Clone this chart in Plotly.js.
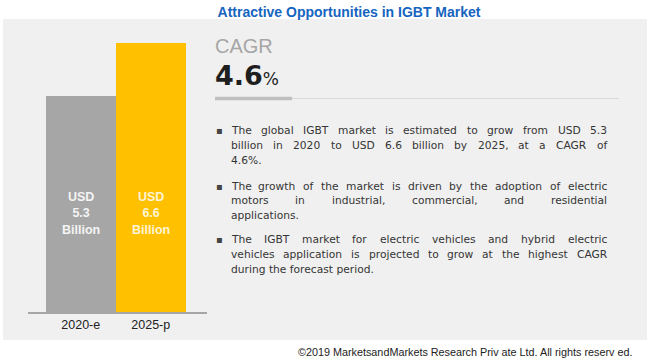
<!DOCTYPE html>
<html>
<head>
<meta charset="utf-8">
<script src="https://cdn.plot.ly/plotly-3.0.1.min.js"></script>
<style>html,body{margin:0;padding:0;background:#fff;}#chart{width:650px;height:361px;}</style>
</head>
<body>
<div id="chart"></div>
<script>
// ---- data ----
var categories = ["2020-e", "2025-p"];
var values = [5.3, 6.6];
var valueLabels = ["USD<br>5.3<br>Billion", "USD<br>6.6<br>Billion"];
var barColors = ["#a6a6a6", "#ffc000"];
var titleText = "Attractive Opportunities in IGBT Market";
var cagrLabel = "CAGR";
var cagrValue = "4.6";
var bullets = [
  ["The global IGBT market is estimated to grow from USD 5.3",
   "billion in 2020 to USD 6.6 billion by 2025, at a CAGR of",
   "4.6%."],
  ["The growth of the market is driven by the adoption of electric",
   "motors in industrial, commercial, and residential",
   "applications."],
  ["The IGBT market for electric vehicles and hybrid electric",
   "vehicles application is projected to grow at the highest CAGR",
   "during the forecast period."]
];
var copyright = "\u00a92019 MarketsandMarkets Research Priv ate Ltd. All rights reserv ed.";

// ---- layout helpers (pixel -> paper) ----
var L = 28, R = 207, T = 20, B = 312;
var W = R - L, H = B - T;
function px(x){ return (x - L) / W; }
function py(y){ return (B - y) / H; }

var ctx = document.createElement("canvas").getContext("2d");
var bodyFont = "DejaVu Sans";
var bodySize = 10.7;
ctx.font = bodySize + "px '" + bodyFont + "'";
function tw(s){ return ctx.measureText(s).width; }

var annotations = [];
function addText(text, x, y, opts){
  opts = opts || {};
  annotations.push({
    text: text, x: px(x), y: py(y), xref: "paper", yref: "paper",
    xanchor: opts.xanchor || "left", yanchor: "middle", showarrow: false,
    borderpad: 0, borderwidth: 0,
    font: {family: opts.family || bodyFont, size: opts.size || bodySize, color: opts.color || "#353535", weight: opts.weight || "normal"}
  });
}

// bar value labels
for (var i = 0; i < categories.length; i++) {
  annotations.push({
    text: "<b>" + valueLabels[i] + "</b>", x: categories[i], y: py(213), xref: "x", yref: "paper",
    xanchor: "center", yanchor: "middle", showarrow: false,
    font: {family: "Liberation Sans", size: 12.5, color: i === 0 ? "#f4f4f4" : "#fff4d6"}
  });
}

// CAGR block
addText(cagrLabel, 215, 46, {family: "Liberation Sans Narrow, Liberation Sans", size: 20, color: "#a6a6a6"});
addText("<b>" + cagrValue + "</b><span style='font-size:17px;font-weight:normal'>%</span>", 215, 75,
        {family: "DejaVu Sans", size: 27, color: "#1e1e1e"});

// bullets with justified text
var lineLeft = 231, lineRight = 607;
var lineYs = [[130.7, 145.3, 160], [186.3, 200.7, 215.3], [239.7, 254.3, 269.3]];
var spaceW = tw(" ");
for (var b = 0; b < bullets.length; b++) {
  addText("\u25aa", 216, lineYs[b][0], {size: 10, color: "#444"});
  for (var l = 0; l < bullets[b].length; l++) {
    var line = bullets[b][l];
    var y = lineYs[b][l];
    var last = (l === bullets[b].length - 1);
    if (last) { addText(line, lineLeft, y); continue; }
    var words = line.split(" ");
    var total = 0;
    words.forEach(function(w){ total += tw(w); });
    var gap = Math.max(spaceW * 0.6, (lineRight - lineLeft - total) / (words.length - 1));
    var xx = lineLeft;
    words.forEach(function(w){ addText(w, xx, y); xx += tw(w) + gap; });
  }
}

// copyright
annotations.push({
  text: copyright, x: px(634), y: py(352), xref: "paper", yref: "paper",
  xanchor: "right", yanchor: "middle", showarrow: false,
  font: {family: "Liberation Sans", size: 10.8, color: "#222"}
});

var shapes = [
  {type: "rect", xref: "paper", yref: "paper", x0: px(3), x1: px(647), y0: py(340), y1: py(19),
   fillcolor: "#f0f0f0", line: {width: 0}, layer: "below"},
  {type: "line", xref: "paper", yref: "paper", x0: px(292), x1: px(619), y0: py(98.5), y1: py(98.5),
   line: {color: "#d9d9d9", width: 1.2}},
  {type: "line", xref: "paper", yref: "paper", x0: px(215), x1: px(292), y0: py(98.5), y1: py(98.5),
   line: {color: "#bfbfbf", width: 3.5}}
];

var trace = {
  type: "bar", x: categories, y: values,
  marker: {color: barColors, line: {width: 0}},
  hoverinfo: "none", width: 1
};

var layout = {
  width: 650, height: 361,
  margin: {l: L, r: 650 - R, t: T, b: 361 - B, pad: 0},
  paper_bgcolor: "#ffffff", plot_bgcolor: "rgba(0,0,0,0)",
  showlegend: false,
  title: {text: "<b>" + titleText + "</b>", x: 349 / 650, xanchor: "center", y: 1 - 12 / 361, yanchor: "middle",
          font: {family: "Liberation Sans Narrow, Liberation Sans", size: 14, color: "#1565c0"}},
  bargap: 0,
  xaxis: {type: "category", range: [-0.754, 1.804], showline: true, linecolor: "#a6a6a6", linewidth: 1.5,
          ticks: "", showgrid: false, zeroline: false, fixedrange: true,
          tickfont: {family: "Liberation Sans", size: 12.5, color: "#222"}},
  yaxis: {range: [0, 7.16], visible: false, showgrid: false, zeroline: false, fixedrange: true},
  shapes: shapes,
  annotations: annotations
};

Plotly.newPlot("chart", [trace], layout, {displayModeBar: false, staticPlot: true});
</script>
</body>
</html>
